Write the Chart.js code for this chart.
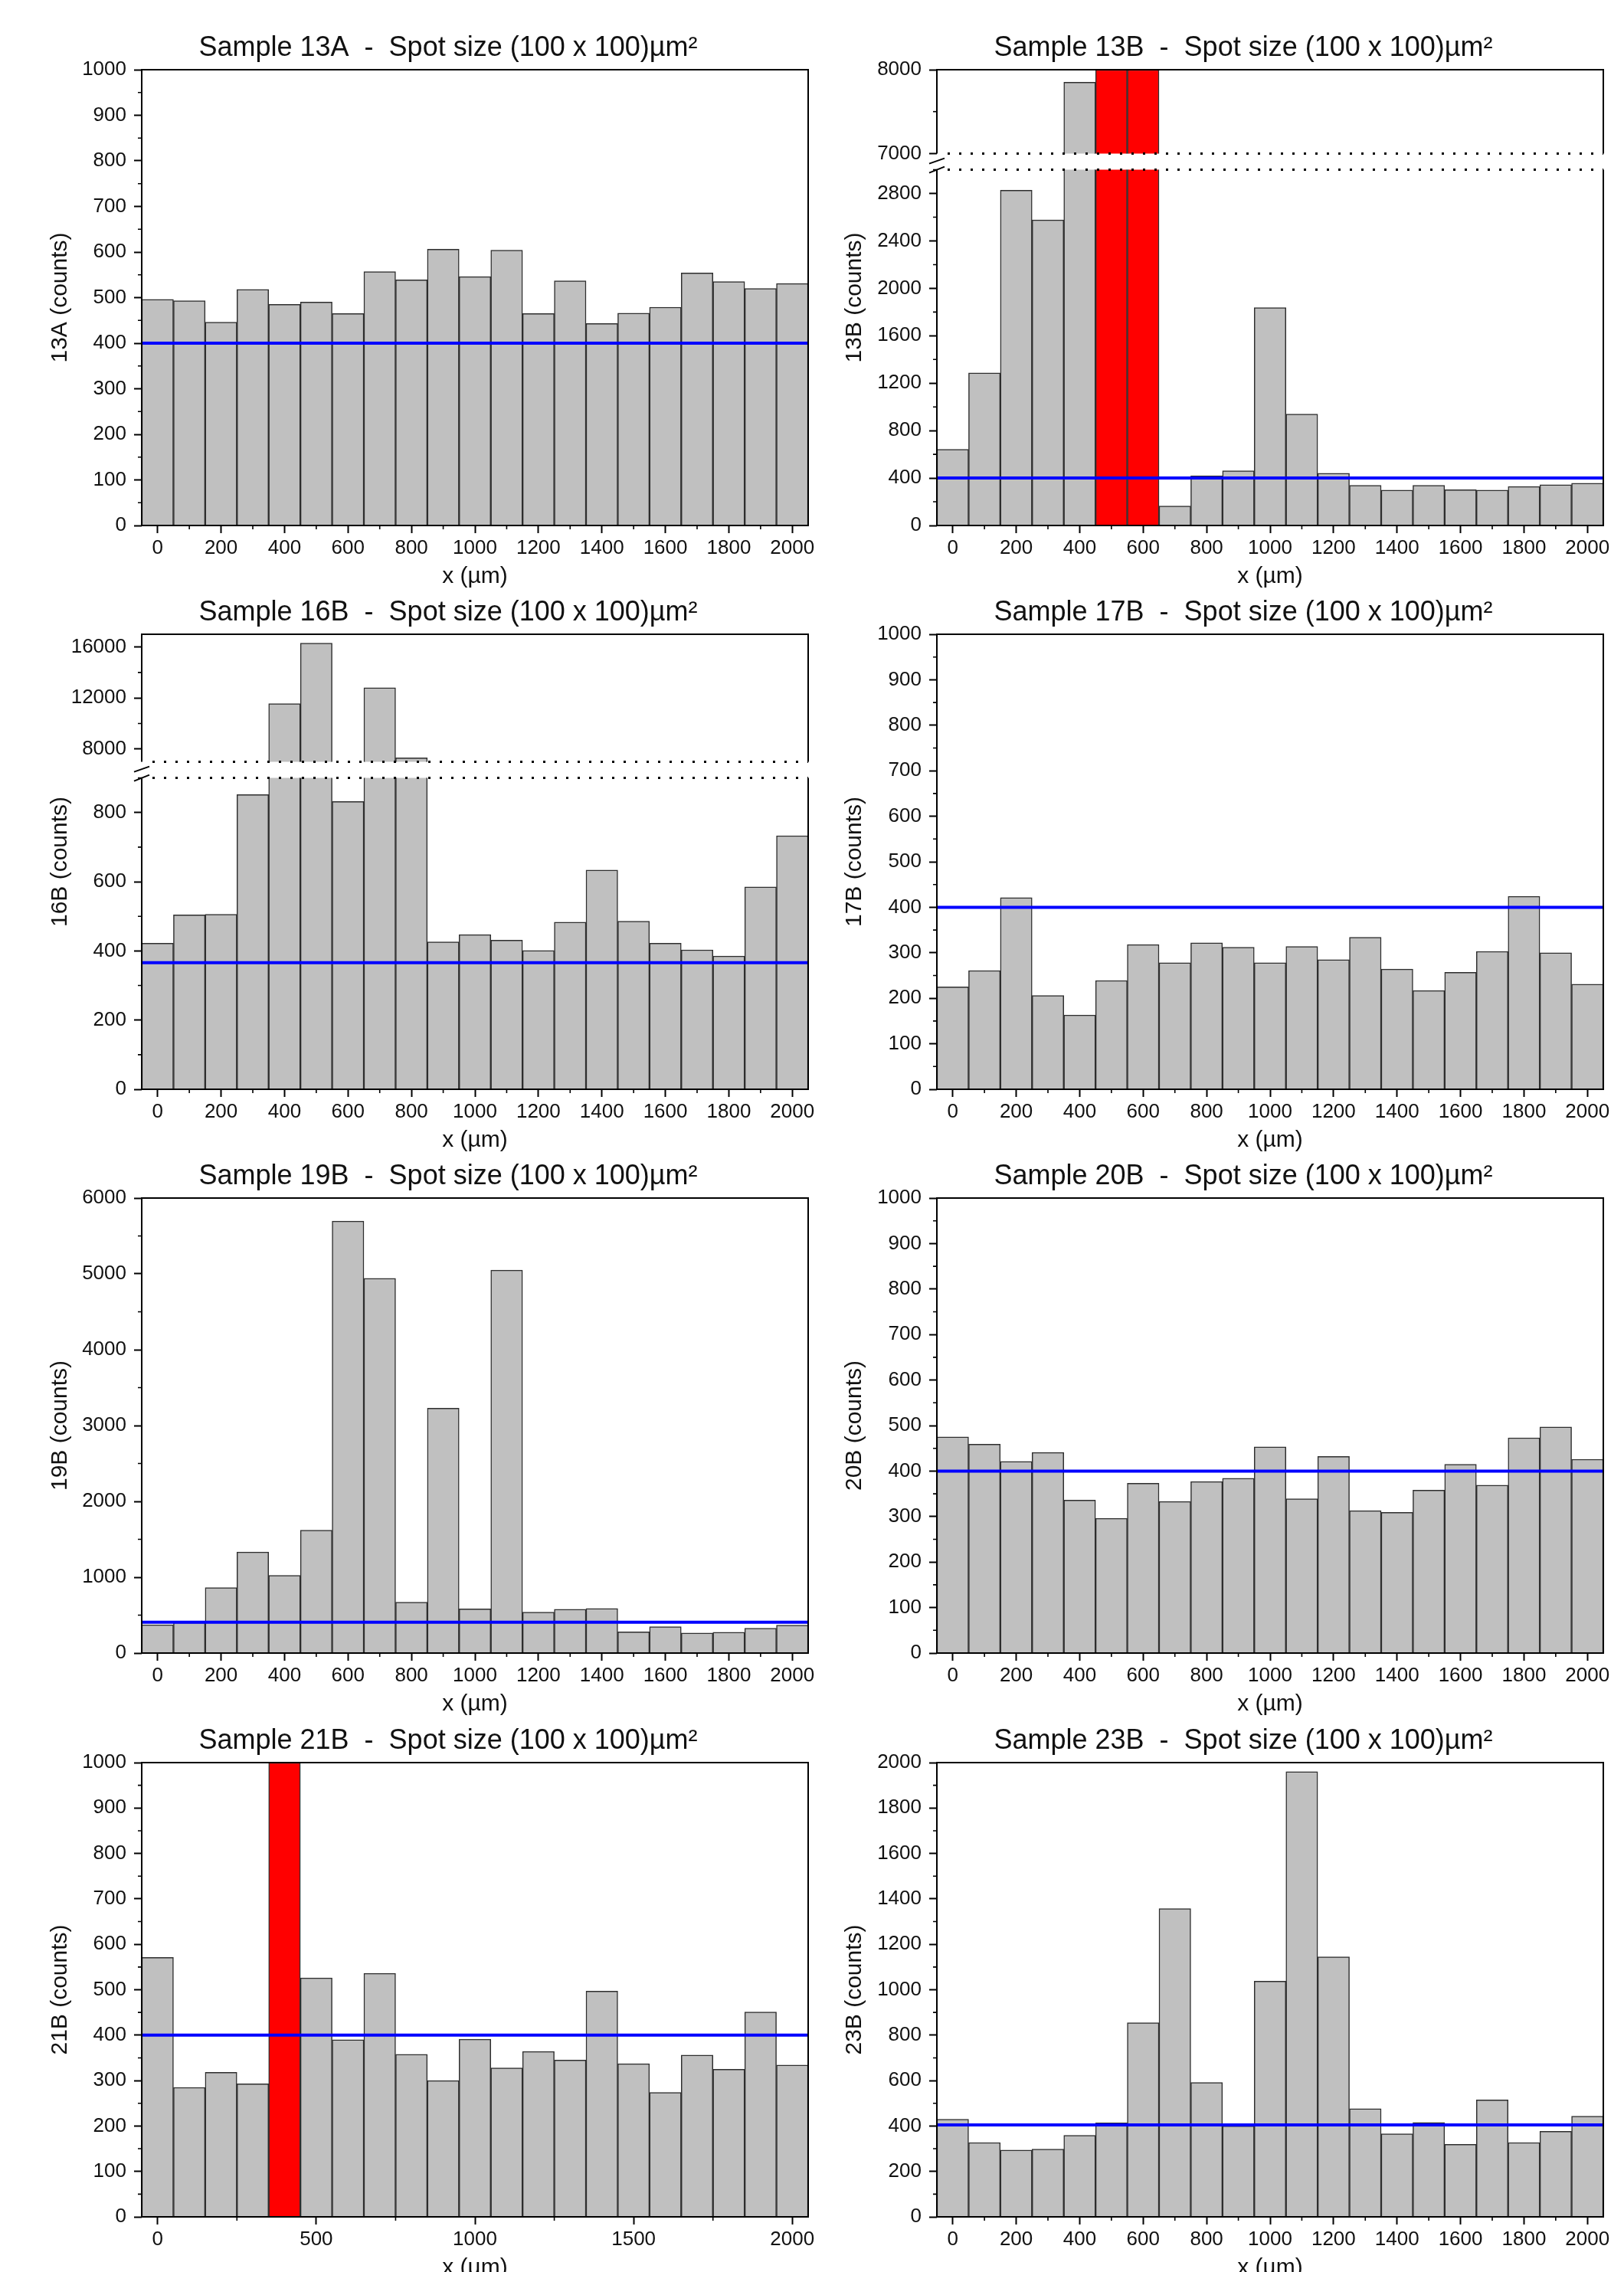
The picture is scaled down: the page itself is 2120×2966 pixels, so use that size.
<!DOCTYPE html>
<html>
<head>
<meta charset="utf-8">
<script src="https://cdn.jsdelivr.net/npm/chart.js@4.4.1/dist/chart.umd.min.js"></script>
<style>
html, body { margin: 0; padding: 0; background: #ffffff; width: 2120px; height: 2966px; overflow: hidden; }
body { position: relative; }
canvas { position: absolute; }
</style>
</head>
<body>
<script>
// ---------------- DATA ----------------
const xCenters = [0, 100, 200, 300, 400, 500, 600, 700, 800, 900, 1000, 1100, 1200, 1300, 1400, 1500, 1600, 1700, 1800, 1900, 2000];
const xTicks = [0, 200, 400, 600, 800, 1000, 1200, 1400, 1600, 1800, 2000];
const xTicks21B = [0, 500, 1000, 1500, 2000];

const s13A = [496, 493, 446, 518, 485, 490, 465, 557, 539, 606, 546, 604, 465, 537, 443, 466, 479, 554, 535, 520, 531];
const s13B = [642, 1287, 2827, 2577, 7850, null, null, 164, 419, 462, 1838, 939, 440, 338, 298, 338, 301, 298, 329, 344, 357];
const red13B = [null, null, null, null, null, 8000, 8000, null, null, null, null, null, null, null, null, null, null, null, null, null, null];
const s16B = [422, 504, 506, 852, 11550, 16300, 832, 12800, 7300, 426, 447, 431, 401, 483, 634, 486, 422, 403, 385, 585, 733];
const s17B = [225, 261, 421, 206, 163, 239, 318, 278, 322, 312, 278, 314, 285, 334, 264, 217, 257, 303, 424, 300, 231];
const s19B = [372, 402, 862, 1332, 1024, 1621, 5696, 4942, 671, 3228, 583, 5050, 539, 578, 588, 279, 348, 265, 274, 328, 367];
const s20B = [475, 459, 421, 441, 336, 296, 373, 333, 377, 384, 453, 339, 432, 313, 309, 358, 415, 369, 473, 497, 426];
const s21B = [571, 285, 318, 293, null, 526, 390, 536, 358, 300, 391, 328, 364, 345, 497, 337, 274, 356, 325, 451, 334];
const red21B = [null, null, null, null, 1000, null, null, null, null, null, null, null, null, null, null, null, null, null, null, null, null];
const s23B = [430, 327, 294, 298, 359, 414, 855, 1357, 592, 400, 1038, 1960, 1145, 476, 366, 415, 319, 515, 327, 377, 443];

const base13A = 400, base13B = 400, base16B = 366, base17B = 400;
const base19B = 407, base20B = 400, base21B = 400, base23B = 405;

const yTicks1000 = [0, 100, 200, 300, 400, 500, 600, 700, 800, 900, 1000];
const yTicks13BLow = [0, 400, 800, 1200, 1600, 2000, 2400, 2800];
const yTicks13BHigh = [7000, 8000];
const yTicks16BLow = [0, 200, 400, 600, 800];
const yTicks16BHigh = [8000, 12000, 16000];
const yTicks19B = [0, 1000, 2000, 3000, 4000, 5000, 6000];
const yTicks23B = [0, 200, 400, 600, 800, 1000, 1200, 1400, 1600, 1800, 2000];

// ---------------- LAYOUT / STYLE ----------------
const X_MIN = -50, X_MAX = 2050;
const FONT = "'Liberation Sans', Arial, Helvetica, sans-serif";
const TXT = '#111111';
const GRAY = '#c0c0c0';
const EDGE = '#2e2e2e';
const RED = '#ff0000';
const BLUE = '#0000ff';
const TITLE_SPACE = 60, EDGE_SPACE = 20, XAXIS_SPACE = 89, BREAK_GAP = 10;

const COLS = [
  { canvasLeft: 0, canvasWidth: 1090, plotLeft: 185, plotRight: 1055, yPad: 57, titleX: 585 },
  { canvasLeft: 1090, canvasWidth: 1030, plotLeft: 1223, plotRight: 2093, yPad: 4, titleX: 1623 }
];
const ROWS = [
  { top: 91, bottom: 686 },
  { top: 828, bottom: 1422 },
  { top: 1564, bottom: 2158 },
  { top: 2301, bottom: 2894 }
];

function minorsOf(ticks, lo, hi) {
  const out = [];
  for (let i = 0; i < ticks.length; i++) {
    const step = i < ticks.length - 1 ? ticks[i + 1] - ticks[i] : ticks[i] - ticks[i - 1];
    if (i === 0 && ticks[0] - step / 2 >= lo) out.push(ticks[0] - step / 2);
    const m = ticks[i] + step / 2;
    if (m <= hi) out.push(m);
  }
  return out;
}

function toXY(vals) {
  const out = [];
  vals.forEach((v, i) => { if (v !== null && v !== undefined) out.push({ x: xCenters[i], y: v }); });
  return out;
}

const decor = {
  id: 'decor',
  afterDatasetsDraw(chart, args, o) {
    const ctx = chart.ctx, a = chart.chartArea;
    const ys = chart.scales.y, xs = chart.scales.x;
    ctx.save();
    ctx.strokeStyle = '#000';
    ctx.lineWidth = 2;
    ctx.setLineDash([]);
    ctx.beginPath();
    ctx.moveTo(a.left, a.top); ctx.lineTo(a.left, a.bottom);
    ctx.moveTo(a.right, a.top); ctx.lineTo(a.right, a.bottom);
    if (!o.dottedTop) { ctx.moveTo(a.left - 1, a.top); ctx.lineTo(a.right + 1, a.top); }
    if (!o.dottedBottom) { ctx.moveTo(a.left - 1, a.bottom); ctx.lineTo(a.right + 1, a.bottom); }
    ctx.stroke();
    // minor ticks
    ctx.lineWidth = 1.6;
    ctx.beginPath();
    (o.yMinor || []).forEach(v => { const p = ys.getPixelForValue(v); ctx.moveTo(a.left - 5, p); ctx.lineTo(a.left, p); });
    (o.xMinor || []).forEach(v => { const p = xs.getPixelForValue(v); ctx.moveTo(p, a.bottom); ctx.lineTo(p, a.bottom + 5); });
    ctx.stroke();
    // dotted break lines
    ctx.lineWidth = 3;
    ctx.setLineDash([3, 12]);
    ctx.beginPath();
    if (o.dottedTop) { ctx.moveTo(a.left + 14, a.top); ctx.lineTo(a.right, a.top); }
    if (o.dottedBottom) { ctx.moveTo(a.left + 14, a.bottom); ctx.lineTo(a.right, a.bottom); }
    ctx.stroke();
    ctx.setLineDash([]);
    // break mark on the y axis
    if (o.breakMark) {
      ctx.lineWidth = 2;
      ctx.beginPath();
      ctx.moveTo(a.left - 10, a.top - BREAK_GAP + 2); ctx.lineTo(a.left + 10, a.top - BREAK_GAP - 5);
      ctx.moveTo(a.left - 10, a.top + 4); ctx.lineTo(a.left + 10, a.top - 4);
      ctx.stroke();
    }
    ctx.restore();
  },
  afterDraw(chart, args, o) {
    const ctx = chart.ctx, a = chart.chartArea;
    ctx.save();
    ctx.fillStyle = TXT;
    if (o.title) {
      ctx.font = '36px ' + FONT;
      ctx.textAlign = 'center';
      ctx.textBaseline = 'alphabetic';
      ctx.fillText(o.title, o.titleX, a.top - 18);
    }
    if (o.yTitle) {
      ctx.font = '30px ' + FONT;
      ctx.textAlign = 'center';
      ctx.textBaseline = 'middle';
      ctx.translate(chart.scales.y.left + 4 + 18, o.yTitleY);
      ctx.rotate(-Math.PI / 2);
      ctx.fillText(o.yTitle, 0, 0);
    }
    ctx.restore();
  }
};

function addCanvas(left, top, width, height) {
  const c = document.createElement('canvas');
  c.width = width; c.height = height;
  c.style.left = left + 'px'; c.style.top = top + 'px';
  c.style.width = width + 'px'; c.style.height = height + 'px';
  document.body.appendChild(c);
  return c;
}

function buildSegment(cfg) {
  const col = COLS[cfg.col];
  const canvasTop = cfg.segTop - (cfg.hasTitle ? TITLE_SPACE : EDGE_SPACE);
  const canvasBottom = cfg.segBottom + (cfg.hasX ? XAXIS_SPACE : EDGE_SPACE);
  const canvas = addCanvas(col.canvasLeft, canvasTop, col.canvasWidth, canvasBottom - canvasTop);
  const datasets = [];
  if (cfg.base !== undefined) {
    datasets.push({ type: 'line', data: [{ x: X_MIN, y: cfg.base }, { x: X_MAX, y: cfg.base }],
      borderColor: BLUE, borderWidth: 4, pointRadius: 0, tension: 0, order: 0, clip: 0 });
  }
  datasets.push({ type: 'bar', data: toXY(cfg.series), backgroundColor: GRAY, borderColor: EDGE,
    borderWidth: 1.5, barPercentage: 1, categoryPercentage: 1, grouped: false, order: 2, clip: 0 });
  if (cfg.red) {
    datasets.push({ type: 'bar', data: toXY(cfg.red), backgroundColor: RED, borderColor: EDGE,
      borderWidth: 1.5, barPercentage: 1, categoryPercentage: 1, grouped: false, order: 1, clip: 0 });
  }
  const tickCommon = { color: TXT, font: { family: FONT, size: 26 }, autoSkip: false, maxRotation: 0, callback: v => String(v) };
  const gridCommon = { drawOnChartArea: false, drawTicks: true, tickLength: 10, tickWidth: 2, tickColor: '#000', offset: false };
  const yWidth = col.plotLeft - col.canvasLeft - col.yPad;
  const xTickArr = cfg.xTicks || xTicks;
  return new Chart(canvas, {
    type: 'bar',
    data: { datasets },
    plugins: [decor],
    options: {
      responsive: false, devicePixelRatio: 1, animation: false, events: [],
      layout: { padding: {
        left: col.yPad,
        right: col.canvasWidth - (col.plotRight - col.canvasLeft),
        top: cfg.hasTitle ? TITLE_SPACE : EDGE_SPACE,
        bottom: cfg.hasX ? 0 : EDGE_SPACE } },
      plugins: {
        legend: { display: false }, tooltip: { enabled: false }, title: { display: false },
        decor: {
          title: cfg.hasTitle ? cfg.title : null,
          titleX: col.titleX - col.canvasLeft,
          yTitle: cfg.customYTitle || null,
          yTitleY: cfg.customYTitleY !== undefined ? cfg.customYTitleY - canvasTop : 0,
          yMinor: minorsOf(cfg.yTicks, cfg.yMin, cfg.yMax),
          xMinor: cfg.hasX ? minorsOf(xTickArr, X_MIN, X_MAX) : [],
          dottedTop: !!cfg.dottedTop, dottedBottom: !!cfg.dottedBottom, breakMark: !!cfg.breakMark
        }
      },
      scales: {
        x: {
          type: 'linear', min: X_MIN, max: X_MAX, offset: false, display: cfg.hasX,
          afterBuildTicks: s => { s.ticks = xTickArr.map(v => ({ value: v })); },
          afterFit: s => { if (cfg.hasX) s.height = XAXIS_SPACE; },
          grid: gridCommon,
          border: { display: false },
          ticks: Object.assign({ padding: 4 }, tickCommon),
          title: { display: true, text: 'x (µm)', color: TXT, font: { family: FONT, size: 30 }, padding: { top: 4, bottom: 4 } }
        },
        y: {
          type: 'linear', min: cfg.yMin, max: cfg.yMax, beginAtZero: false,
          afterBuildTicks: s => { s.ticks = cfg.yTicks.map(v => ({ value: v })); },
          afterFit: s => { s.width = yWidth; },
          grid: gridCommon,
          border: { display: false },
          ticks: Object.assign({ padding: 10 }, tickCommon),
          title: { display: !!cfg.yTitle, text: cfg.yTitle || '', color: TXT, font: { family: FONT, size: 30 }, padding: { top: 4, bottom: 4 } }
        }
      }
    }
  });
}

function simplePanel(col, row, title, yTitle, series, base, yMax, yTicks, extra) {
  const r = ROWS[row];
  buildSegment(Object.assign({ col, segTop: r.top, segBottom: r.bottom, hasTitle: true, hasX: true,
    title, yTitle, series, base, yMin: 0, yMax, yTicks }, extra || {}));
}

function brokenPanel(col, row, title, yTitle, series, red, base, split, low, high) {
  const r = ROWS[row];
  buildSegment({ col, segTop: r.top, segBottom: split, hasTitle: true, hasX: false, title,
    series, red, yMin: high.min, yMax: high.max, yTicks: high.ticks, dottedBottom: true });
  buildSegment({ col, segTop: split + BREAK_GAP, segBottom: r.bottom, hasTitle: false, hasX: true,
    series, red, base, yMin: low.min, yMax: low.max, yTicks: low.ticks, dottedTop: true, breakMark: true,
    customYTitle: yTitle, customYTitleY: (r.top + r.bottom) / 2 });
}

simplePanel(0, 0, 'Sample 13A  -  Spot size (100 x 100)µm²', '13A (counts)', s13A, base13A, 1000, yTicks1000);
brokenPanel(1, 0, 'Sample 13B  -  Spot size (100 x 100)µm²', '13B (counts)', s13B, red13B, base13B, 206,
  { min: 0, max: 3000, ticks: yTicks13BLow }, { min: 7000, max: 8000, ticks: yTicks13BHigh });
brokenPanel(0, 1, 'Sample 16B  -  Spot size (100 x 100)µm²', '16B (counts)', s16B, null, base16B, 1000,
  { min: 0, max: 900, ticks: yTicks16BLow }, { min: 7000, max: 17000, ticks: yTicks16BHigh });
simplePanel(1, 1, 'Sample 17B  -  Spot size (100 x 100)µm²', '17B (counts)', s17B, base17B, 1000, yTicks1000);
simplePanel(0, 2, 'Sample 19B  -  Spot size (100 x 100)µm²', '19B (counts)', s19B, base19B, 6000, yTicks19B);
simplePanel(1, 2, 'Sample 20B  -  Spot size (100 x 100)µm²', '20B (counts)', s20B, base20B, 1000, yTicks1000);
simplePanel(0, 3, 'Sample 21B  -  Spot size (100 x 100)µm²', '21B (counts)', s21B, base21B, 1000, yTicks1000,
  { red: red21B, xTicks: xTicks21B });
simplePanel(1, 3, 'Sample 23B  -  Spot size (100 x 100)µm²', '23B (counts)', s23B, base23B, 2000, yTicks23B);
</script>
</body>
</html>
